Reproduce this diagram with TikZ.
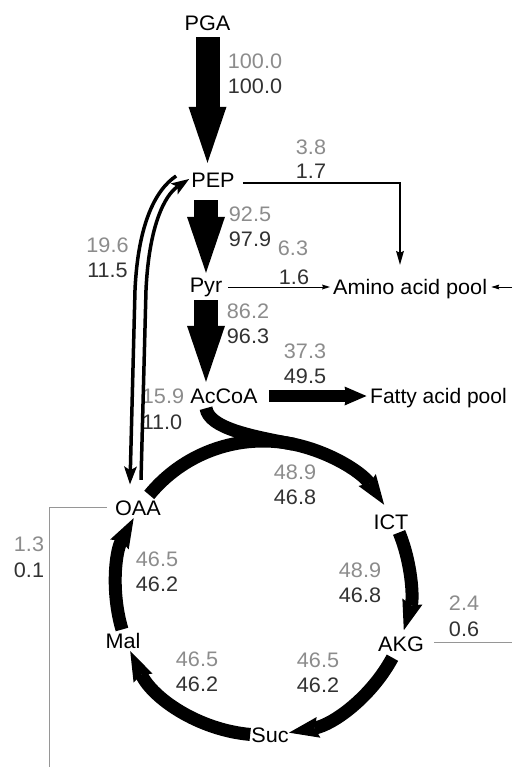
\documentclass[tikz,border=0pt]{standalone}
\usepackage{fontspec}
\setmainfont[FakeStretch=1.03]{Liberation Sans}
\newfontfamily\plainfont{Liberation Sans}
\usetikzlibrary{arrows.meta,calc}
\definecolor{vgray}{RGB}{140,140,140}
\definecolor{vdark}{RGB}{50,50,50}
\definecolor{lgray}{RGB}{150,150,150}
\newcommand\figfont{\fontsize{21}{25}\selectfont}
\tikzset{
  nd/.style={font=\figfont, text height=15pt, text depth=0pt, inner sep=0pt},
  vg/.style={nd, text=vgray},
  vd/.style={nd, text=vdark},
  blk/.style={line width=24pt, -{Triangle[length=56pt,width=38pt,line width=0pt]}},
  fatarr/.style={line width=12pt, -{Stealth[length=22pt,width=19pt,inset=2pt,line width=0pt]}},
  ring/.style={line width=13pt, -{Stealth[length=30pt,width=21pt,inset=4pt,line width=0pt]}},
  dbl/.style={line width=3.5pt, -{Stealth[length=18pt,width=13pt,inset=4pt,line width=0pt]}},
  medarr/.style={line width=2pt, -{Stealth[length=14pt,width=8pt,inset=2pt,line width=0pt]}},
  thinarr/.style={line width=1pt, -{Stealth[length=8pt,width=5pt,inset=1pt,line width=0pt]}},
  gl/.style={line width=1pt, draw=lgray}
}
\begin{document}
\begin{tikzpicture}[x=1pt,y=-1pt]
\useasboundingbox (0,0) rectangle (512,767);
\fill[white] (0,0) rectangle (512,767);

% metabolite nodes
\node[nd] (PGA) at (207.5,23) {PGA};
\node[nd] (PEP) at (213,180) {PEP};
\node[nd] (Pyr) at (206,285) {Pyr};
\node[nd] (AcCoA) at (224,396) {AcCoA};
\node[nd, anchor=west] (Amino) at (333,287) {Amino acid pool};
\node[nd, anchor=west, font=\plainfont\figfont] (Fatty) at (370,396) {Fatty acid pool};
\node[nd] (OAA) at (138,508) {OAA};
\node[nd] (ICT) at (391,522) {ICT};
\node[nd] (AKG) at (401,644) {AKG};
\node[nd] (Suc) at (270,735) {Suc};
\node[nd] (Mal) at (123,641) {Mal};

\coordinate (C) at (263,588);
\coordinate (RE) at (512,287);
\coordinate (Bot) at (49,767);
\coordinate (AKGr) at (512,642);

% flux labels
\node[vg] (l1a) at (255,61) {100.0};
\node[vd] (l1b) at (255,86) {100.0};
\node[vg] (l2a) at (311,147) {3.8};
\node[vd] (l2b) at (311,171) {1.7};
\node[vg] (l3a) at (250,214) {92.5};
\node[vd] (l3b) at (250,239) {97.9};
\node[vg] (l4a) at (293,248) {6.3};
\node[vd] (l4b) at (294,277) {1.6};
\node[vg] (l5a) at (248,311) {86.2};
\node[vd] (l5b) at (248,336) {96.3};
\node[vg] (l6a) at (305,351) {37.3};
\node[vd] (l6b) at (305,376) {49.5};
\node[vg] (l7a) at (107.5,245) {19.6};
\node[vd] (l7b) at (107.5,270) {11.5};
\node[vg] (l8a) at (163,396) {15.9};
\node[vd] (l8b) at (162,422) {11.0};
\node[vg] (l9a) at (29,544) {1.3};
\node[vd] (l9b) at (29,570) {0.1};
\node[vg] (l10a) at (295,472) {48.9};
\node[vd] (l10b) at (295,497) {46.8};
\node[vg] (l11a) at (360,570) {48.9};
\node[vd] (l11b) at (360,595) {46.8};
\node[vg] (l12a) at (464,603) {2.4};
\node[vd] (l12b) at (464,629) {0.6};
\node[vg] (l13a) at (157,559) {46.5};
\node[vd] (l13b) at (157,584) {46.2};
\node[vg] (l14a) at (197,659) {46.5};
\node[vd] (l14b) at (197,684) {46.2};
\node[vg] (l15a) at (318,660) {46.5};
\node[vd] (l15b) at (318,685) {46.2};

% main glycolytic flux
\draw[blk, shorten <=6.5pt, shorten >=9.5pt] (PGA.south) -- (PGA.south |- PEP.north);
\draw[blk, shorten <=12.5pt, shorten >=4.5pt] (Pyr.north |- PEP.south) -- (Pyr.north);
\draw[blk, shorten <=7.5pt, shorten >=6.5pt] (Pyr.south) -- (Pyr.south |- AcCoA.north);
\draw[fatarr, shorten <=11pt, shorten >=3.5pt] (AcCoA.east) -- (Fatty.west);

% to amino acid pool
\draw[medarr] ($(PEP.east)+(8,3)$) -| ($(Amino.north west)+(67,-14.5)$);
\draw[thinarr, shorten <=6pt, shorten >=3pt] (Pyr.east |- Amino.west) -- (Amino.west);
\draw[thinarr, shorten >=4pt] (RE) -- (Amino.east);

% PEP <-> OAA
\draw[dbl] ($(PEP.west)+(-15,-4)$) .. controls (155,190) and (138,225) .. (135,290) -- ($(OAA.north)+(-8,-16)$);
\draw[dbl] ($(OAA.north)+(3,-20.5)$) -- (146,290) .. controls (149,225) and (165,195) .. ($(PEP.west)+(-2,-1)$);

% grey effluxes
\draw[gl] ($(OAA.west)+(-8,-1)$) -| (Bot);
\draw[gl] ($(AKG.east)+(10,-2)$) -- (AKGr);

% TCA cycle
\draw[line width=13pt] ($(AcCoA.south)+(-18,4.5)$) .. controls (209,428) and (250,436) .. ($(C)+(-78:147)$);
\draw[ring] ($(C)+(-140.7:147)$) arc[start angle=-140.7, end angle=-34.5, radius=147];
\draw[ring] ($(C)+(-22.2:147)$) arc[start angle=-22.2, end angle=16.7, radius=147];
\draw[ring] ($(C)+(28.3:147)$) arc[start angle=28.3, end angle=79.8, radius=147];
\draw[ring] ($(C)+(95:147)$) arc[start angle=95, end angle=154.6, radius=147];
\draw[ring] ($(C)+(163.6:147)$) arc[start angle=163.6, end angle=208.4, radius=147];
\end{tikzpicture}
\end{document}
